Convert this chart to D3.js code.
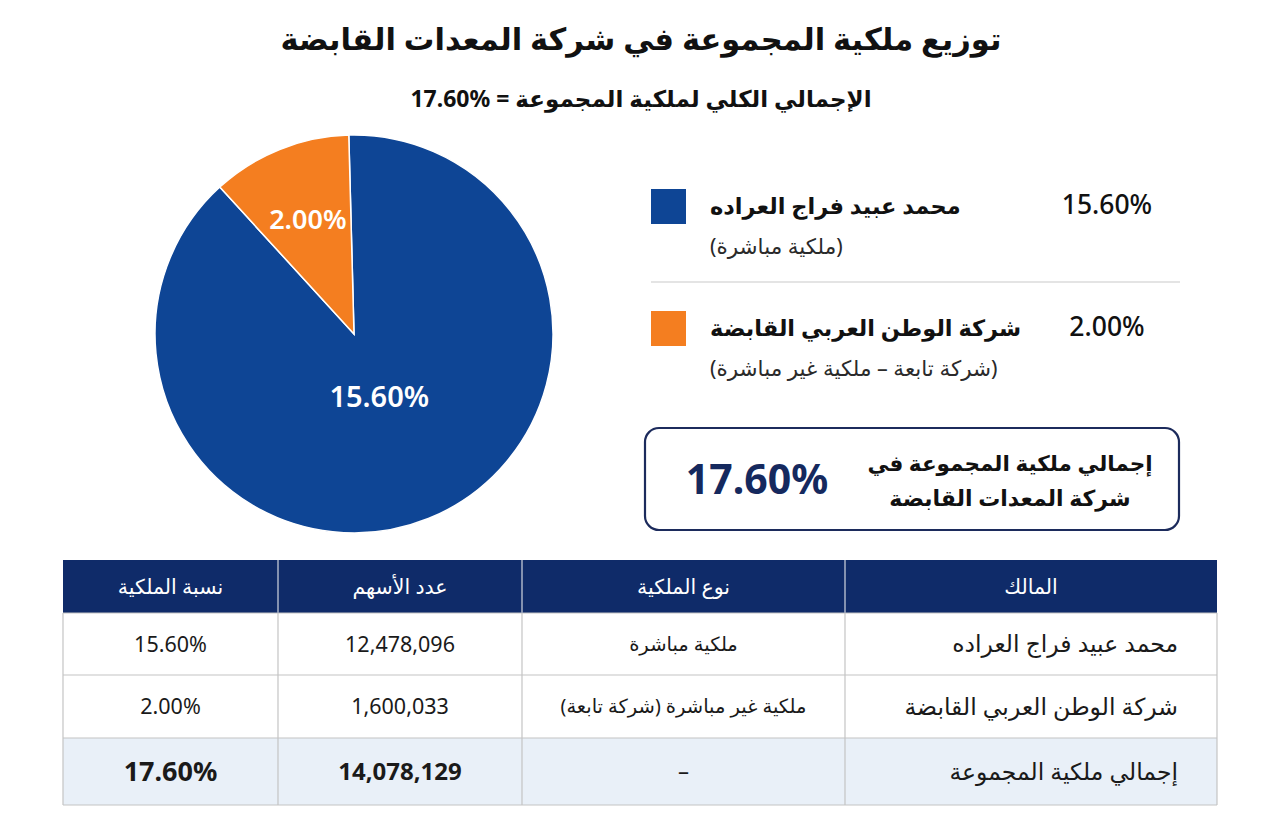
<!DOCTYPE html>
<html lang="ar">
<head>
<meta charset="utf-8">
<script src="https://cdn.jsdelivr.net/npm/d3@7"></script>
<style>
  body { margin: 0; background: #fff; }
  svg { display: block; font-family: "Noto Sans", "DejaVu Sans", sans-serif; }
  text { direction: rtl; unicode-bidi: embed; }
</style>
</head>
<body>
<svg id="chart" width="1280" height="829"></svg>
<script>
// data
const owners = ["محمد عبيد فراج العراده", "شركة الوطن العربي القابضة"];
const ownerNotes = ["(ملكية مباشرة)", "(شركة تابعة – ملكية غير مباشرة)"];
const ownershipTypes = ["ملكية مباشرة", "ملكية غير مباشرة (شركة تابعة)"];
const percents = [15.60, 2.00];
const shares = [12478096, 1600033];
const totalLabel = "إجمالي ملكية المجموعة";
const totalPercent = 17.60;
const totalShares = 14078129;
const headers = ["المالك", "نوع الملكية", "عدد الأسهم", "نسبة الملكية"];
const colors = ["#0e4595", "#f47e20"];

const svg = d3.select("#chart");
const fmtPct = d => d.toFixed(2) + "%";
const fmtNum = d3.format(",");

// titles
svg.append("text")
    .attr("x", 641).attr("y", 50)
    .attr("text-anchor", "middle")
    .attr("font-size", 30.5).attr("font-weight", 700).attr("fill", "#111")
    .text("توزيع ملكية المجموعة في شركة المعدات القابضة");

// LRM keeps the percent sign after the number inside Arabic text
svg.append("text")
    .attr("x", 641).attr("y", 107)
    .attr("text-anchor", "middle")
    .attr("font-size", 23).attr("font-weight", 700).attr("fill", "#111")
    .text("الإجمالي الكلي لملكية المجموعة = \u200E" + fmtPct(totalPercent));

// pie
const cx = 354, cy = 334, r = 199;
const pie = d3.pie().sort(null)
    .startAngle(-1.5 * Math.PI / 180)
    .endAngle(2 * Math.PI - 1.5 * Math.PI / 180);
const arcs = pie(percents);
const arc = d3.arc().innerRadius(0).outerRadius(r);
const labelRadius = [r * 0.34, r * 0.62];

const pieG = svg.append("g").attr("transform", `translate(${cx},${cy})`);
pieG.selectAll("path")
    .data(arcs)
    .join("path")
    .attr("d", arc)
    .attr("fill", (d, i) => colors[i])
    .attr("stroke", "#fff")
    .attr("stroke-width", 1.5);

pieG.selectAll("text")
    .data(arcs)
    .join("text")
    .attr("transform", (d, i) => {
        const a = d3.arc().innerRadius(labelRadius[i]).outerRadius(labelRadius[i]);
        return `translate(${a.centroid(d)})`;
    })
    .attr("text-anchor", "middle")
    .attr("dy", "0.35em")
    .attr("font-size", (d, i) => i === 0 ? 29 : 27)
    .attr("font-weight", 600)
    .attr("fill", "#fff")
    .style("direction", "ltr")
    .text(d => fmtPct(d.data));

// legend
const legendY = d3.scaleOrdinal().domain(owners).range([206, 328]);
const legend = svg.append("g");
owners.forEach((name, i) => {
    const y = legendY(name);
    legend.append("rect")
        .attr("x", 651).attr("y", y - 17)
        .attr("width", 35).attr("height", 35)
        .attr("fill", colors[i]);
    legend.append("text")
        .attr("x", 710).attr("y", y + 8)
        .attr("text-anchor", "end")
        .attr("font-size", 22.5).attr("font-weight", 700).attr("fill", "#111")
        .text(name);
    legend.append("text")
        .attr("x", 710).attr("y", y + 48)
        .attr("text-anchor", "end")
        .attr("font-size", 21.5).attr("fill", "#2a2a2a")
        .text(ownerNotes[i]);
    legend.append("text")
        .attr("x", 1107).attr("y", y + 8)
        .attr("text-anchor", "middle")
        .attr("font-size", 26.5).attr("font-weight", 500).attr("fill", "#111")
        .style("direction", "ltr")
        .text(fmtPct(percents[i]));
});
legend.append("line")
    .attr("x1", 651).attr("x2", 1180)
    .attr("y1", 282).attr("y2", 282)
    .attr("stroke", "#c9c9c9").attr("stroke-width", 1.2);

// total box
const box = svg.append("g");
box.append("rect")
    .attr("x", 645).attr("y", 428)
    .attr("width", 534).attr("height", 102)
    .attr("rx", 14)
    .attr("fill", "#fff").attr("stroke", "#1c2b5c").attr("stroke-width", 2.2);
box.append("text")
    .attr("x", 757).attr("y", 494)
    .attr("text-anchor", "middle")
    .attr("font-size", 41).attr("font-weight", 700).attr("fill", "#15295e")
    .style("direction", "ltr")
    .text(fmtPct(totalPercent));
box.append("text")
    .attr("x", 1010).attr("y", 471)
    .attr("text-anchor", "middle")
    .attr("font-size", 21.5).attr("font-weight", 700).attr("fill", "#111")
    .text("إجمالي ملكية المجموعة في");
box.append("text")
    .attr("x", 1010).attr("y", 506)
    .attr("text-anchor", "middle")
    .attr("font-size", 22).attr("font-weight", 700).attr("fill", "#111")
    .text("شركة المعدات القابضة");

// table
const colEdges = [1217, 845, 522, 278, 63];
const rowEdges = [560, 613, 675, 738, 805];
const rows = owners.map((o, i) => [o, ownershipTypes[i], fmtNum(shares[i]), fmtPct(percents[i])]);
rows.push([totalLabel, "–", fmtNum(totalShares), fmtPct(totalPercent)]);

const table = svg.append("g");
table.append("rect")
    .attr("x", colEdges[4]).attr("y", rowEdges[0])
    .attr("width", colEdges[0] - colEdges[4]).attr("height", rowEdges[1] - rowEdges[0])
    .attr("fill", "#0f2b69");
table.append("rect")
    .attr("x", colEdges[4]).attr("y", rowEdges[3])
    .attr("width", colEdges[0] - colEdges[4]).attr("height", rowEdges[4] - rowEdges[3])
    .attr("fill", "#e9f0f8");

// grid lines
rowEdges.slice(1).forEach(y => {
    table.append("line")
        .attr("x1", colEdges[4]).attr("x2", colEdges[0])
        .attr("y1", y).attr("y2", y)
        .attr("stroke", "#c4c4c4").attr("stroke-width", 1.2);
});
colEdges.forEach((x, j) => {
    table.append("line")
        .attr("x1", x).attr("x2", x)
        .attr("y1", j === 0 || j === 4 ? rowEdges[1] : rowEdges[0]).attr("y2", rowEdges[4])
        .attr("stroke", "#c4c4c4").attr("stroke-width", 1.2);
});
// header dividers in lighter tone
colEdges.slice(1, 4).forEach(x => {
    table.append("line")
        .attr("x1", x).attr("x2", x)
        .attr("y1", rowEdges[0]).attr("y2", rowEdges[1])
        .attr("stroke", "#8d9cc0").attr("stroke-width", 1);
});

headers.forEach((h, j) => {
    table.append("text")
        .attr("x", (colEdges[j] + colEdges[j + 1]) / 2)
        .attr("y", (rowEdges[0] + rowEdges[1]) / 2)
        .attr("dy", "0.35em")
        .attr("text-anchor", "middle")
        .attr("font-size", 20.5).attr("font-weight", 500).attr("fill", "#fff")
        .text(h);
});

rows.forEach((row, i) => {
    const yMid = (rowEdges[i + 1] + rowEdges[i + 2]) / 2;
    const isTotal = i === rows.length - 1;
    row.forEach((cell, j) => {
        const t = table.append("text")
            .attr("y", yMid)
            .attr("dy", "0.35em")
            .attr("fill", "#1a1a1a")
            .text(cell);
        if (j === 0) {
            t.attr("x", colEdges[0] - 39).attr("text-anchor", "start")
                .attr("font-size", 23.5).attr("font-weight", 500);
        } else {
            t.attr("x", (colEdges[j] + colEdges[j + 1]) / 2).attr("text-anchor", "middle");
            if (j === 1) t.attr("font-size", isTotal ? 22 : 19.5);
            if (j >= 2) {
                t.style("direction", "ltr")
                    .attr("font-size", isTotal ? (j === 3 ? 27 : 24) : 21.5)
                    .attr("font-weight", isTotal ? 700 : 400);
            }
        }
    });
});
</script>
</body>
</html>
